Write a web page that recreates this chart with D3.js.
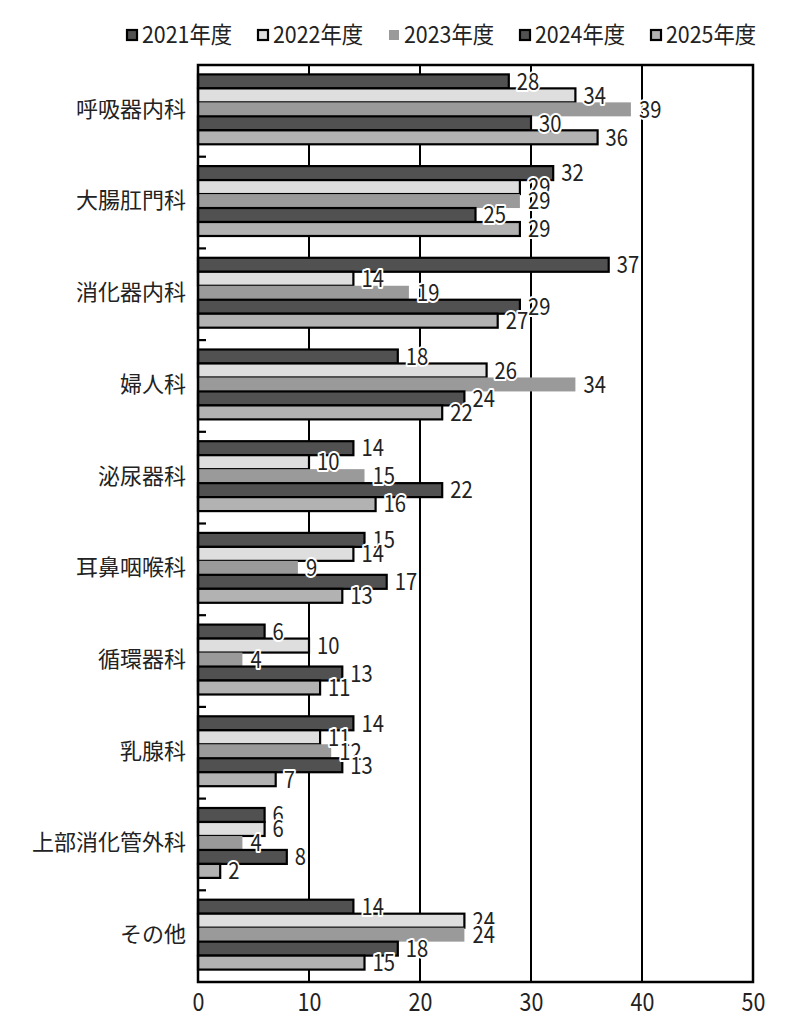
<!DOCTYPE html>
<html><head><meta charset="utf-8">
<script src="https://cdn.jsdelivr.net/npm/d3@7"></script>
<style>
body{margin:0;background:#fff;}
text{font-family:"Noto Sans CJK JP","Noto Sans",sans-serif;fill:#222;}
</style></head>
<body><svg id="c" width="800" height="1034"></svg>
<script>
const categories = ["呼吸器内科","大腸肛門科","消化器内科","婦人科","泌尿器科","耳鼻咽喉科","循環器科","乳腺科","上部消化管外科","その他"];
const years = ["2021年度","2022年度","2023年度","2024年度","2025年度"];
const v2021 = [28,32,37,18,14,15,6,14,6,14];
const v2022 = [34,29,14,26,10,14,10,11,6,24];
const v2023 = [39,29,19,34,15,9,4,12,4,24];
const v2024 = [30,25,29,24,22,17,13,13,8,18];
const v2025 = [36,29,27,22,16,13,11,7,2,15];
const xTicks = [0,10,20,30,40,50];
const series = [v2021,v2022,v2023,v2024,v2025];
const fills = ["#515151","#dedede","#9a9a9a","#515151","#b2b2b2"];
const strokes = ["#000","#000","none","#000","#000"];

const svg = d3.select("#c");
const L=198,R=753,T=65,B=982;
const x = d3.scaleLinear().domain([0,50]).range([L,R]);
const y0 = d3.scaleBand().domain(categories).range([T,B]);
const y1 = d3.scaleBand().domain(years).range([0,y0.bandwidth()]).paddingOuter(0.78);

svg.append("rect").attr("x",L).attr("y",T).attr("width",R-L).attr("height",B-T).attr("fill","#fff");
svg.append("g").selectAll("line").data(xTicks.slice(1,-1)).join("line")
  .attr("x1",d=>x(d)).attr("x2",d=>x(d)).attr("y1",T).attr("y2",B)
  .attr("stroke","#000").attr("stroke-width",2);

const rows = [];
categories.forEach((c,i)=>years.forEach((yr,j)=>rows.push({c,yr,j,v:series[j][i]})));
svg.append("g").selectAll("rect").data(rows).join("rect")
  .attr("x",x(0)).attr("y",d=>y0(d.c)+y1(d.yr)-1.5)
  .attr("width",d=>x(d.v)-x(0)).attr("height",y1.bandwidth())
  .attr("fill",d=>fills[d.j]).attr("stroke",d=>strokes[d.j]).attr("stroke-width",2.2);

svg.append("g").selectAll("line").data(categories.slice(1)).join("line")
  .attr("x1",L).attr("x2",L+8).attr("y1",d=>y0(d)).attr("y2",d=>y0(d))
  .attr("stroke","#000").attr("stroke-width",2.2);

svg.append("rect").attr("x",L).attr("y",T).attr("width",R-L).attr("height",B-T)
  .attr("fill","none").attr("stroke","#000").attr("stroke-width",2.5);

// value labels (slightly condensed)
svg.append("g").selectAll("text").data(rows).join("text")
  .attr("transform",d=>`translate(${x(d.v)+8},${y0(d.c)+y1(d.yr)-1.5+y1.bandwidth()/2}) scale(0.88,1)`)
  .attr("dy","0.36em").attr("font-size",23)
  .attr("stroke","#fff").attr("stroke-width",4).attr("stroke-linejoin","round")
  .attr("paint-order","stroke")
  .text(d=>d.v);

svg.append("g").selectAll("text").data(categories).join("text")
  .attr("x",186).attr("y",d=>y0(d)+y0.bandwidth()/2-2)
  .attr("dy","0.36em").attr("text-anchor","end").attr("font-size",22)
  .text(d=>d);

const xAxis = d3.axisBottom(x).tickValues(xTicks).tickSize(0).tickPadding(0).tickFormat(d3.format("d"));
const gx = svg.append("g").attr("transform",`translate(0,${B})`).call(xAxis);
gx.select(".domain").remove();
gx.selectAll("text").attr("font-size",25).attr("dy",null).attr("y",0)
  .attr("transform","translate(0,29) scale(0.86,1)")
  .style("font-family",'"Noto Sans CJK JP","Noto Sans",sans-serif').attr("fill","#222");

const lg = svg.append("g").selectAll("g").data(years).join("g")
  .attr("transform",(d,i)=>`translate(${126+i*131},35)`);
lg.append("rect").attr("x",1).attr("y",-5).attr("width",10).attr("height",10)
  .attr("fill",(d,i)=>fills[i]).attr("stroke",(d,i)=>strokes[i]).attr("stroke-width",2.2);
lg.append("text").attr("transform","translate(16,0) scale(0.93,1)").attr("dy","0.36em").attr("font-size",23).text(d=>d);
</script></body></html>
